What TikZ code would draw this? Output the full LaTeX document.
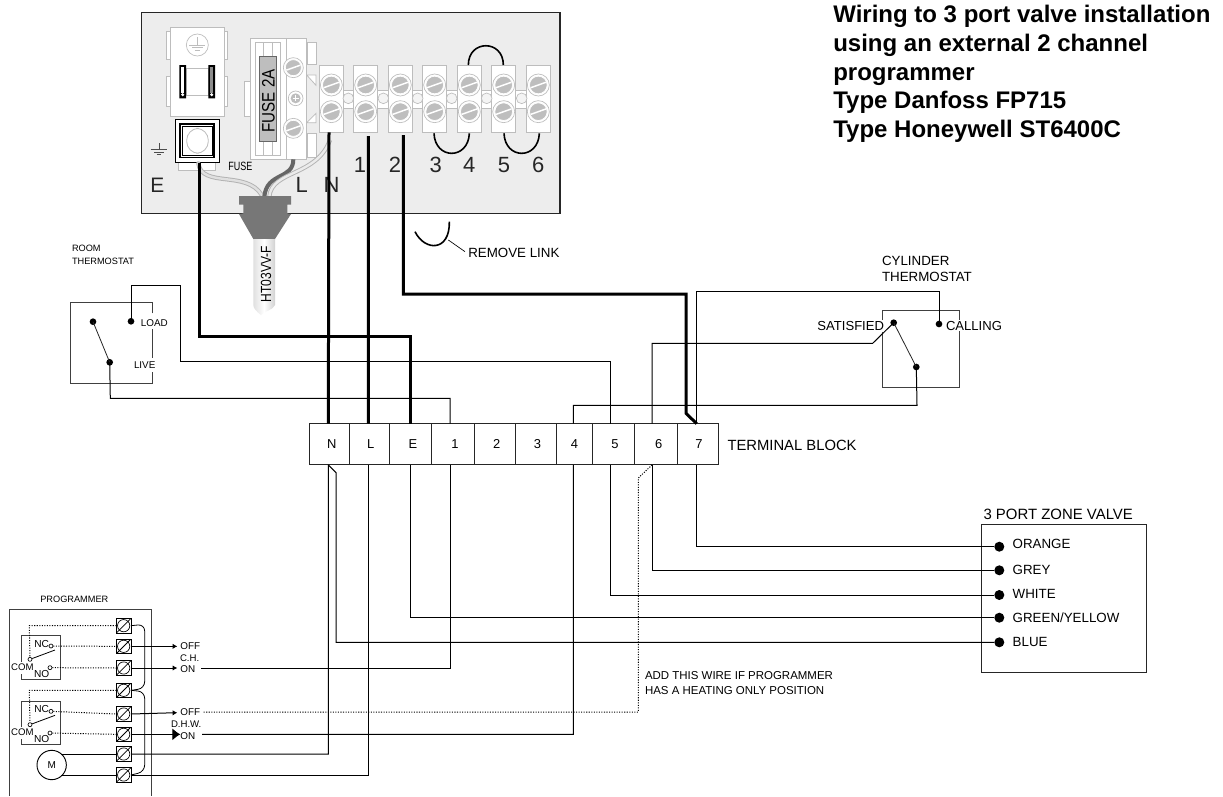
\documentclass[tikz,border=0pt]{standalone}
\usepackage{fontspec}
\setmainfont{Liberation Sans}
\usetikzlibrary{arrows.meta,shapes.geometric}
\definecolor{panelgray}{HTML}{EDEDED}
\definecolor{edgegray}{HTML}{BDBDBD}
\definecolor{glandgray}{HTML}{777777}
\definecolor{fusegray}{HTML}{BEBEBE}
\newcommand{\fs}[1]{\fontsize{#1}{#1}\selectfont}
\newcommand{\screwat}[3]{%
  \fill[white,draw=edgegray,line width=.5pt] (#1,#2) circle (#3);
  \fill[fusegray,draw=white,line width=.5pt] (#1,#2) circle ({#3*0.8});
  \draw[white,line width=1.1pt] ({#1-#3*0.7},{#2+#3*0.25}) -- ({#1+#3*0.7},{#2-#3*0.25});
}
\tikzset{
  thin wire/.style={line width=.75pt,black,line join=miter},
  thick wire/.style={line width=2.25pt,black,line join=miter},
  dot wire/.style={line width=.75pt,black,dash pattern=on .8pt off 1.1pt},
  link/.style={line width=1.2pt,black},
  lbl/.style={inner sep=0pt,outer sep=0pt,text=black},
  big/.style={lbl,font=\fs{16.5},text=black!85},
  sz10/.style={lbl,font=\fs{10}},
  sz7/.style={lbl,font=\fs{7.2}},
  tiny/.style={lbl,font=\fs{6.9}},
  cellbox/.style={draw=black!85,line width=.75pt,minimum height=30.9pt,inner sep=0pt,outer sep=0pt},
  soldot/.style={circle,fill=black,inner sep=0pt,minimum size=#1},
  soldot/.default=5pt,
  clamp/.style={draw=black,line width=.75pt,fill=white,minimum size=11pt,inner sep=0pt,outer sep=0pt,
    path picture={
      \draw[line width=.5pt] (path picture bounding box.center) circle (4.6pt);
      \draw[line width=.6pt] (path picture bounding box.south west) -- (path picture bounding box.north east);}},
  openc/.style={circle,draw=black,fill=white,line width=.5pt,inner sep=0pt,minimum size=3pt},
  part/.style={fill=white,draw=edgegray,line width=.6pt},
  case/.style={draw=black!75,line width=.75pt},
}
\begin{document}
\begin{tikzpicture}[x=0.75pt,y=-0.75pt]
\useasboundingbox[fill=white] (0,0) rectangle (1223,796);

% ---------- appliance panel (zoom coordinates: 1/3 px)
\begin{scope}[shift={(130,0)},x=0.25pt,y=-0.25pt]
\fill[panelgray,draw=black!85,line width=.9pt] (35,38) rectangle (1290,640);
% earth block
\foreach \a/\b in {95/178,230/320}{
  \draw[part] (110,\a) rectangle (120,\b);
  \draw[part] (283,\a) rectangle (293,\b);
}
\draw[part] (120,82) rectangle (283,350);
\draw[edgegray,line width=.5pt] (202,135) circle (33);
\draw[edgegray,line width=.5pt] (202,112) -- (202,135) (178,135) -- (226,135) (186,143) -- (218,143) (194,151) -- (210,151);
\draw[edgegray,line width=.6pt] (168,205) rectangle (235,285);
\fill[black] (148,195) rectangle (168,295) (235,195) rectangle (255,295);
\fill[white] (153,200) rectangle (163,280);
\fill[black!45] (240,200) rectangle (250,280);
\fill[white] (158,284) circle (5) (245,284) circle (5);
\draw[part] (145,487) rectangle (255,510);
\draw[black,fill=white,line width=.7pt] (136,357) rectangle (267,487);
\draw[black,line width=.9pt] (150,372) rectangle (252,472);
\draw[black,line width=.7pt] (156,378) rectangle (246,466);
\draw[edgegray,fill=white,line width=.6pt,rounded corners=9pt] (170,385) rectangle (235,460);
% earth symbol
\draw[black!70,line width=.5pt] (88,430) -- (88,448) (62,448) -- (112,448) (72,456) -- (102,456) (80,464) -- (94,464);
% fuse holder
\draw[part] (343,245) rectangle (362,348);
\draw[part] (533,127) rectangle (558,193);
\draw[part] (533,400) rectangle (558,472);
\draw[part] (530,225) -- (558,225) -- (558,256) -- cycle;
\draw[part] (530,368) -- (558,340) -- (558,368) -- cycle;
\draw[part] (362,115) rectangle (470,478);
\draw[part] (470,115) rectangle (530,478);
\draw[edgegray,line width=.5pt] (375,128) rectangle (452,465);
\draw[edgegray,line width=.5pt] (400,128) -- (400,465) (428,128) -- (428,465);
\fill[fusegray,draw=black!60,line width=.5pt] (388,168) rectangle (440,425);
\node[lbl,rotate=90,font=\fs{13.5}] (fusetext) at (415,303) {\scalebox{.84}[1]{FUSE 2A}};
\screwat{490}{203}{30}
\screwat{490}{385}{30}
\draw[edgegray,fill=white,line width=.5pt] (497,295) circle (22);
\fill[fusegray] (497,295) circle (15);
\draw[white,line width=.7pt] (488,295) -- (506,295) (497,286) -- (497,304);
% cable conductors
\draw[line width=3.2pt,black!30,line cap=round] (205,490) .. controls (215,565) and (350,510) .. (395,585);
\draw[line width=1.8pt,black!12,line cap=round] (205,490) .. controls (215,565) and (350,510) .. (395,585);
\draw[line width=3pt,black!60] (490,478) .. controls (490,540) and (410,515) .. (403,590);
\draw[line width=3.2pt,black!30] (600,420) .. controls (560,530) and (425,510) .. (418,590);
\draw[line width=1.8pt,black!8] (600,420) .. controls (560,530) and (425,510) .. (418,590);
% strip connector
\fill[white,draw=edgegray,line width=.6pt] (640,270) rectangle (1189,325);
\foreach \x in {568,671,775,878,982,1085,1189}{
  \draw[part] (\x,195) rectangle (\x+72,397);
  \screwat{\x+36}{255}{33}
  \screwat{\x+36}{335}{33}
}
\foreach \x in {655,760,863,965,1070,1175}{
  \fill[panelgray!60!white,draw=edgegray,line width=.5pt] (\x,295) circle (16);
}
% links
\draw[link] (1015,195) .. controls (1015,118) and (1120,118) .. (1120,195);
\draw[link] (912,400) .. controls (915,480) and (1015,480) .. (1018,400);
\draw[link] (1122,400) .. controls (1125,480) and (1225,480) .. (1228,400);
\draw[link] (855,695) .. controls (885,755) and (960,755) .. (958,665);
\draw[black,line width=.5pt] (955,720) -- (1005,755);
\node[sz10,anchor=west] (removelink) at (1015,758) {REMOVE LINK};
% panel letters
\node[big,font=\fs{15.7}] (letE) at (82,555) {E};
\node[big] (letL) at (515,555) {L};
\node[big] (letN) at (605,555) {N};
\node[big] (let1) at (690,495) {1};
\node[big] (let2) at (795,495) {2};
\node[big] (let3) at (917,495) {3};
\node[big] (let4) at (1018,495) {4};
\node[big] (let5) at (1122,495) {5};
\node[big] (let6) at (1225,495) {6};
\node[lbl,font=\fs{9}] (fusesmall) at (331,500) {\scalebox{.75}[1]{FUSE}};
% cable gland
\fill[glandgray] (327,588) -- (483,588) -- (483,614) -- (472,614) -- (472,640) -- (483,642) -- (435,717) -- (370,717) -- (327,642) -- (340,640) -- (340,614) -- (327,614) -- cycle;
\shade[left color=black!12,right color=black!18,middle color=white]
  (370,717) -- (435,717) -- (435,915) .. controls (430,930) and (400,935) .. (393,945) .. controls (380,935) and (370,925) .. (370,915) -- cycle;
\node[lbl,rotate=90,font=\fs{11}] (cabletext) at (408,822) {\scalebox{.82}[1]{HT03VV-F}};
\coordinate (screwE) at (207,490);
\coordinate (screwN) at (597,397);
\coordinate (screwL) at (715,408);
\coordinate (screw2) at (820,405);
\end{scope}

% ---------- title
\node[lbl,anchor=north west,align=left,font=\bfseries\fontsize{18}{21.5}\selectfont] (title) at (833.3,5.5) {%
  Wiring to 3 port valve installation\\
  using an external 2 channel\\
  programmer\\
  Type Danfoss FP715\\
  Type Honeywell ST6400C};

% ---------- terminal block
\foreach \nm/\l/\r/\t/\d in {N/309/349/N/2.7,L/349/389.3/L/1.5,E/389.3/431.3/E/2.7,1/431.3/474/1/2.4,2/474/515.3/2/2,3/515.3/556/3/1.7,4/556/592.7/4/0,5/592.7/634/5/1.7,6/634/677.3/6/3,7/677.3/718/7/1.4}{
  \node[cellbox,minimum width={(\r-\l)*0.75pt}] (t\nm) at ({(\l+\r)/2},444.3) {};
  \node[lbl,font=\fs{9.7}] (n\nm) at ([xshift=\d*0.75pt]t\nm.center) {\t};
}
\node[lbl,anchor=west,font=\fs{11.1}] (tblabel) at (727.5,445.5) {TERMINAL BLOCK};
\foreach \nm/\dx in {N/-0.7,L/-0.85,E/-0.3,1/-2.65,4/-1,5/-2.65,6/-3.65,7/-0.95}{
  \path (t\nm.north) ++(\dx,0) coordinate (t\nm t);
  \path (t\nm.south) ++(\dx,0) coordinate (t\nm b);
}

% ---------- room thermostat
\node[tiny,anchor=west] (rt1) at (72,248) {ROOM};
\node[tiny,anchor=west] (rt2) at (72,261) {THERMOSTAT};
\draw[case] (152.3,313.3) -- (152.3,302.7) -- (70.7,302.7) -- (70.7,383) -- (152.3,383) -- (152.3,371.7);
\draw[case] (152.3,329) -- (152.3,358);
\node[soldot] (rA) at (93,321.7) {};
\node[soldot] (rB) at (131,321.3) {};
\node[soldot] (rC) at (109.7,362.3) {};
\draw[line width=.6pt,black!85] (rA.center) -- (rC.center);
\node[sz7,anchor=center,font=\fs{7.4}] (rload) at (154.3,322.7) {LOAD};
\node[sz7,anchor=center,font=\fs{7.4}] (rlive) at (144.7,364.7) {LIVE};

% ---------- cylinder thermostat
\node[sz10,anchor=west] (ct1) at (882,260.5) {CYLINDER};
\node[sz10,anchor=west] (ct2) at (882,276.5) {THERMOSTAT};
\draw[case] (882.3,320) -- (882.3,310.7) -- (959,310.7) -- (959,320);
\draw[case] (959,331) -- (959,387) -- (882.3,387) -- (882.3,332);
\node[soldot] (cS) at (893.7,322.7) {};
\node[soldot] (cC) at (939,324) {};
\node[soldot] (cM) at (916.3,367) {};
\draw[line width=.6pt,black!85] (cS.center) -- (cM.center);
\node[sz10,anchor=east,font=\fs{9.8}] (csat) at (884,325.5) {SATISFIED};
\node[sz10,anchor=west,font=\fs{9.8}] (ccal) at (946,325.5) {CALLING};

% ---------- valve
\node[lbl,anchor=south west,font=\fs{11.2}] (vt) at (983.5,519.5) {3 PORT ZONE VALVE};
\draw[draw=black!85,line width=.75pt] (981.7,524) rectangle (1146,672);
\foreach \nm/\y/\ly/\t in {or/546.7/543.5/ORANGE,gr/570.3/569.5/GREY,wh/595/594/WHITE,gy/617.7/617.7/GREEN\slash YELLOW,bl/642.3/641.7/BLUE}{
  \node[soldot=7.5pt] (v\nm) at (999.3,\y) {};
  \node[sz10,anchor=west] (l\nm) at (1012.7,\ly) {\t};
}

% ---------- programmer (zoom coordinates: 1/3 px)
\begin{scope}[shift={(0,580)},x=0.25pt,y=-0.25pt]
\node[tiny,anchor=center] (ptitle) at (223,59) {PROGRAMMER};
\draw[case] (27,648) -- (27,87) -- (455,87) -- (455,648);
\foreach \n/\y in {1/137,2/199,3/264,4/331,5/402,6/463,7/522,8/585}{
  \node[clamp] (p\n) at (371,\y) {};
}
% switches
\foreach \o/\sw in {0/A,196/B}{
  \draw[case] (64,{245+\o}) -- (64,{167+\o}) -- (180,{167+\o}) -- (180,{298+\o}) -- (64,{298+\o}) -- (64,{282+\o});
  \node[lbl,font=\fs{7.6}] at (125,{192+\o}) {NC};
  \node[lbl,font=\fs{7.6}] at (125,{281+\o}) {NO};
  \node[lbl,font=\fs{7.2}] at (67,{262+\o}) {COM};
  \node[openc] (nc\sw) at (153,{198+\o}) {};
  \node[openc] (no\sw) at (150,{263+\o}) {};
  \node[openc] (com\sw) at (90,{238+\o}) {};
  \draw[line width=.6pt] (com\sw) -- (165,{210+\o});
}
% dotted internal wiring
\draw[dot wire] (p1.west) -- (88,137) -- (comA);
\draw[dot wire] (ncA) -- (p2.west);
\draw[dot wire] (noA) -- (p3.west);
\draw[dot wire] (p4.west) -- (88,331) -- (comB);
\draw[dot wire] (ncB) -- (p5.west);
\draw[dot wire] (noB) -- (p6.west);
% commons
\draw[thin wire,rounded corners=5pt,line width=.6pt] (p1.east) -- (434,133) -- (434,325) -- (p4.east);
\draw[thin wire,rounded corners=5pt,line width=.6pt] (p4.east) -- (434,335) -- (434,575) -- (p8.east);
% motor
\node[circle,draw=black,line width=.7pt,minimum size=22pt,inner sep=0pt,font=\fs{7.5}] (motor) at (155,555) {M};
\draw[thin wire] (183,522) -- (p7.west);
\draw[thin wire] (183,585) -- (p8.west);
% output arrows
\coordinate (off1) at (532,199);
\coordinate (on1) at (532,264);
\coordinate (off2) at (532,398);
\coordinate (on2) at (541,463);
\draw[thin wire,-{Latex[length=3.5pt,width=4pt]}] (p2.east) -- (off1);
\draw[thin wire,-{Latex[length=3.5pt,width=4pt]}] (p3.east) -- (on1);
\draw[thin wire,-{Latex[length=3.5pt,width=4pt]}] (p5.east) -- (off2);
\draw[thin wire,-{Latex[length=6pt,width=9pt]}] (p6.east) -- (on2);
\node[sz7,anchor=west,font=\fs{7.4}] (toff1) at (541,197) {OFF};
\node[lbl,anchor=west,font=\fs{7.2}] (tch) at (540,234) {C.H.};
\node[sz7,anchor=west,font=\fs{7.4}] (ton1) at (541,267) {ON};
\node[sz7,anchor=west,font=\fs{7.4}] (toff2) at (541,396) {OFF};
\node[lbl,anchor=west,font=\fs{7.2}] (tdhw) at (513,433) {D.H.W.};
\node[sz7,anchor=west,font=\fs{7.4}] (ton2) at (541,467) {ON};
\coordinate (w1) at (602,264);
\coordinate (w2) at (606,463);
\coordinate (w3) at (610,396);
\end{scope}

% ---------- note
\node[lbl,anchor=west,font=\fs{8.6}] (note1) at (645,675.5) {ADD THIS WIRE IF PROGRAMMER};
\node[lbl,anchor=west,font=\fs{8.6}] (note2) at (645,691) {HAS A HEATING ONLY POSITION};

% ---------- wires
\draw[thin wire] (tNb) -- (336,472.7) -- (336,642.3) -- (vbl);
\draw[thin wire] (tEb) -- (410,617.7) -- (vgy);
\draw[thin wire] (t5b) -- (610.7,595) -- (vwh);
\draw[thin wire] (t6b) -- (652,570.3) -- (vgr);
\draw[thin wire] (t7b) -- (696.7,546.7) -- (vor);
\draw[thin wire] (tNb) -- (328.3,754) -- (p7.east);
\draw[thin wire] (tLb) -- (368.3,775) -- (p8.east);
\draw[thin wire] (t1b) -- (450,668) -- (w1);
\draw[thin wire] (t4b) -- (573.3,734.3) -- (w2);
\draw[dot wire] (t6b) -- (638.3,478) -- (638.3,712) -- (w3);
\draw[thin wire] (rB.center) -- (131,285) -- (180.3,285) -- (180.3,361) -- (610.7,361) -- (t5t);
\draw[thin wire] (rC.center) -- (110.3,398.3) -- (450,398.3) -- (t1t);
\draw[thin wire] (cC.center) -- (939,291.7) -- (696.7,291.7) -- (t7t);
\draw[thin wire] (cS.center) -- (872.7,343.3) -- (652,343.3) -- (t6t);
\draw[thin wire] (cM.center) -- (917,405.3) -- (573.3,405.3) -- (t4t);
\draw[thick wire] (screwE) -- (199,336) -- (410,336) -- (tEt);
\draw[thick wire] (screwN) -- (tNt);
\draw[thick wire] (screwL) -- (tLt);
\draw[thick wire] (screw2) -- (403.3,294) -- (686,294) -- (686,413.3) -- (t7t);
\end{tikzpicture}
\end{document}
